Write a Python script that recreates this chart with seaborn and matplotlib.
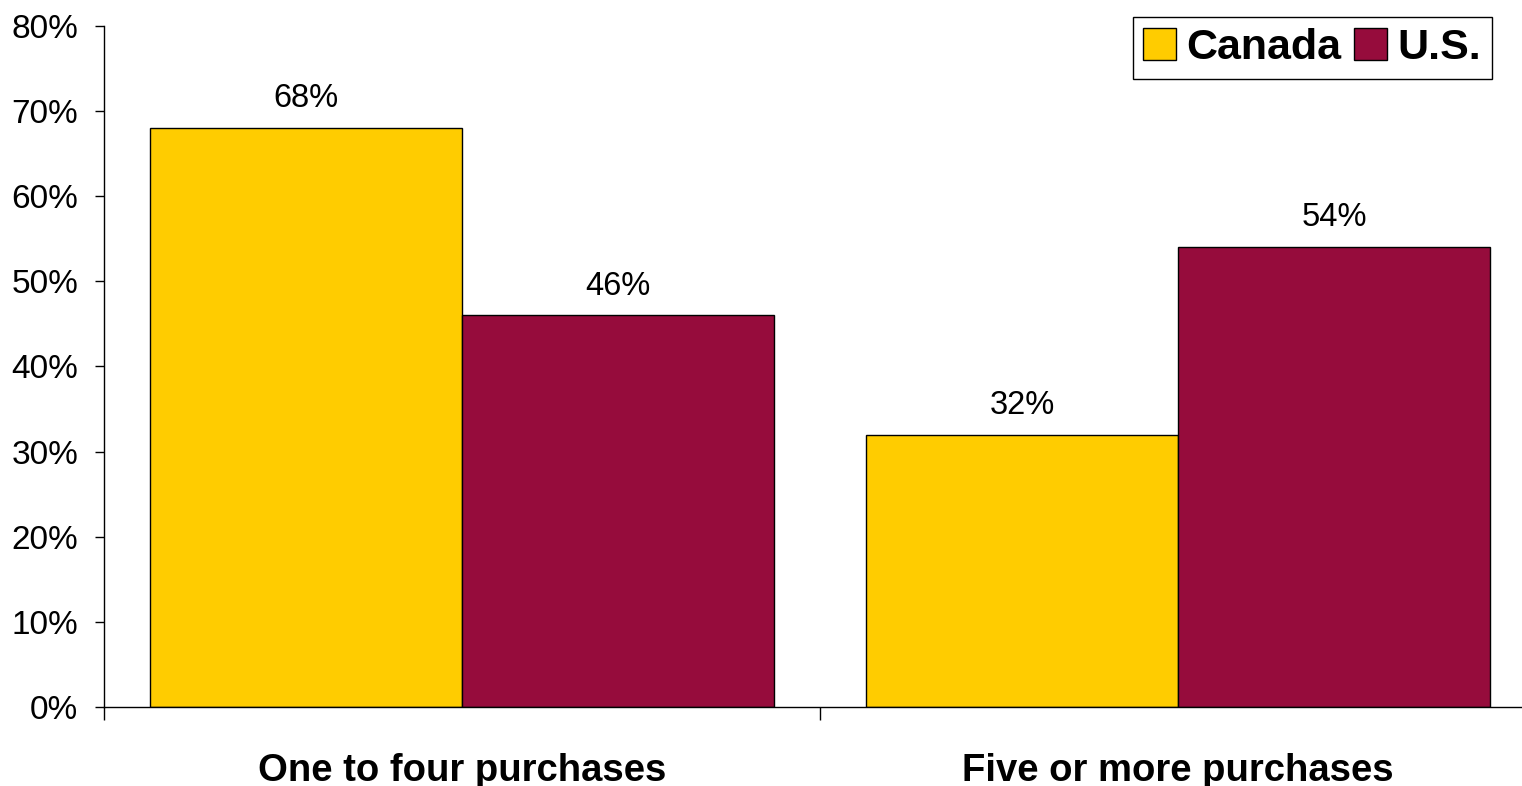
import matplotlib
matplotlib.use("Agg")
import matplotlib.pyplot as plt
import seaborn as sns
import pandas as pd
from matplotlib.ticker import FixedLocator, PercentFormatter
from matplotlib.patches import Patch

categories = ["One to four purchases", "Five or more purchases"]
countries = ["Canada", "U.S."]
canada_values = [68, 32]
us_values = [46, 54]
y_ticks = [0, 10, 20, 30, 40, 50, 60, 70, 80]

palette = {"Canada": "#FFCC00", "U.S.": "#960C3C"}

df = pd.DataFrame({
    "category": categories * 2,
    "country": ["Canada"] * len(categories) + ["U.S."] * len(categories),
    "value": canada_values + us_values,
})

sns.set_style("white")
plt.rcParams["font.family"] = ["Liberation Sans", "DejaVu Sans"]
plt.rcParams["text.color"] = "black"
plt.rcParams["xtick.color"] = "black"
plt.rcParams["ytick.color"] = "black"
plt.rcParams["axes.labelcolor"] = "black"

W, H = 1522, 786
fig = plt.figure(figsize=(W / 100, H / 100), dpi=100)
left, right, bottom, top = 104, 1536, 707, 26
ax = fig.add_axes([left / W, 1 - bottom / H, (right - left) / W, (bottom - top) / H])

sns.barplot(data=df, x="category", y="value", hue="country", order=categories,
            hue_order=countries, palette=palette, width=0.872, gap=0,
            edgecolor="black", linewidth=1.0, saturation=1, ax=ax, legend=False)

for cont in ax.containers:
    ax.bar_label(cont, labels=[f"{v:.0f}%" for v in cont.datavalues],
                 padding=10, fontsize=23.5, color="black")

ax.set_ylim(0, 80)
ax.set_xlim(-0.5, len(categories) - 0.5)
ax.set_yticks(y_ticks)
ax.yaxis.set_major_formatter(PercentFormatter(decimals=0))
ax.tick_params(axis="y", which="major", direction="out", length=6.5, width=1,
               color="black", labelcolor="black", labelsize=24, pad=12, left=True)

ax.set_xticks(range(len(categories)))
ax.set_xticklabels(categories, fontsize=27.5, fontweight="bold", color="black")
ax.tick_params(axis="x", which="major", length=0, pad=33)
ax.xaxis.set_minor_locator(FixedLocator([-0.5, 0.5, 1.5]))
ax.tick_params(axis="x", which="minor", direction="out", length=9.5, width=1,
               color="black", bottom=True)

ax.set_xlabel("")
ax.set_ylabel("")
for side in ["top", "right"]:
    ax.spines[side].set_visible(False)
for side in ["left", "bottom"]:
    ax.spines[side].set_color("black")
    ax.spines[side].set_linewidth(1)

handles = [Patch(facecolor=palette[c], edgecolor="black", linewidth=1) for c in countries]
leg = fig.legend(handles, countries, loc="upper right",
                 bbox_to_anchor=(1492 / W, 1 - 17 / H), ncol=2,
                 prop={"weight": "bold", "size": 31}, frameon=True, fancybox=False,
                 edgecolor="black", framealpha=1, borderpad=0.25, handlelength=0.75,
                 handleheight=0.75, handletextpad=0.25, columnspacing=0.3,
                 borderaxespad=0)
leg.get_frame().set_linewidth(1)
for t in leg.get_texts():
    t.set_color("black")

fig.savefig("out.png", dpi=100)
